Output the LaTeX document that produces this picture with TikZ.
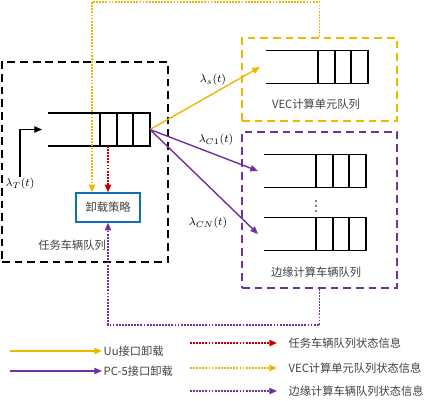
\documentclass[tikz,border=0pt]{standalone}
\usepackage{amsmath}
\usepackage{fontspec}
\newfontfamily\cjk{Noto Sans CJK SC}
\usetikzlibrary{arrows.meta}
\definecolor{gold}{RGB}{242,182,0}
\definecolor{plum}{RGB}{112,48,160}
\definecolor{darkred}{RGB}{192,0,0}
\definecolor{boxblue}{RGB}{16,110,180}

% queue: name, right end x, middle y
\newcommand{\drawqueue}[3]{%
  \draw[qline] (#2-102,#3-16.5) -- (#2,#3-16.5) -- (#2,#3+16.5) -- (#2-102,#3+16.5);
  \draw[qline] (#2-50,#3-16.5) -- (#2-50,#3+16.5);
  \draw[qline] (#2-33,#3-16.5) -- (#2-33,#3+16.5);
  \draw[qline] (#2-17,#3-16.5) -- (#2-17,#3+16.5);
  \coordinate (#1-in) at (#2-108,#3);
  \coordinate (#1-out) at (#2,#3);
}

\begin{document}
\begin{tikzpicture}[x=0.025cm, y=-0.025cm,
  >={Triangle[length=5.5pt,width=4.5pt]},
  qline/.style={line width=1.1pt, black},
  txt/.style={font=\cjk\fontsize{8}{9}\selectfont, text=black!75, inner sep=1pt},
  lab/.style={font=\fontsize{8.5}{9}\selectfont, inner sep=1pt},
  dbox/.style={draw, dash pattern=on 5.5pt off 3.5pt, line width=1.2pt},
  dots/.style={dash pattern=on 1.3pt off 0.9pt, line width=1pt},
  uu/.style={->, gold, line width=1pt},
  pc/.style={->, plum, line width=1pt},
  rinfo/.style={->, darkred, dots},
  yinfo/.style={->, gold, dots},
  pinfo/.style={->, plum, dots}]
  \useasboundingbox (0,0) rectangle (426,400);

  % boxes
  \node [dbox, black, minimum width=4.15cm, minimum height=5cm] (tv) at (85,162) {};
  \node [dbox, gold, line width=1pt, minimum width=3.875cm, minimum height=2.075cm] (vec) at (319.5,79.5) {};
  \node [dbox, plum, line width=1pt, minimum width=3.875cm, minimum height=3.9cm] (edge) at (319.5,210) {};
  \node [draw=boxblue, line width=1pt, minimum width=1.6cm, minimum height=0.725cm, txt] (strat) at (108,207.5) {卸载策略};

  % queues
  \drawqueue{tq}{150}{129.5}
  \drawqueue{vq}{368}{67}
  \drawqueue{e1}{366}{171}
  \drawqueue{e2}{366}{234}
  \foreach \y in {201,206,211}
    \fill (316,\y) circle (0.6pt);

  % texts
  \node [txt] (tvname) at (72,245) {任务车辆队列};
  \node [txt] (vecname) at (316,104) {VEC计算单元队列};
  \node [txt] (edgename) at (316,272) {边缘计算车辆队列};

  % arrival
  \node [lab] (lT) at (20,184) {$\lambda_T(t)$};
  \draw [->, line width=1pt] (lT.north) |- (tq-in);

  % offloading
  \draw [uu] (tq-out) -- (vq-in);
  \draw [pc] (tq-out) -- (e1-in);
  \draw [pc] (tq-out) -- (e2-in);
  \node [lab] (ls) at (213,80) {$\lambda_s(t)$};
  \node [lab] (lc1) at (216,140) {$\lambda_{C1}(t)$};
  \node [lab] (lcn) at (208,223) {$\lambda_{CN}(t)$};

  % state information
  \coordinate (ytop) at (92,2);
  \draw [yinfo] (vec.north) |- (ytop) -- (ytop |- strat.north);
  \coordinate (rtop) at (108,146);
  \draw [rinfo] (rtop) -- (strat.north);
  \coordinate (pbot) at (108,325);
  \draw [pinfo] (edge.south) |- (pbot) -- (strat.south);

  % legend
  \node [txt, anchor=west] (lg1) at (102,351) {Uu接口卸载};
  \coordinate (lg1s) at (10,351);
  \draw [uu] (lg1s) -- (lg1.west);
  \node [txt, anchor=west] (lg2) at (102,371) {PC-5接口卸载};
  \coordinate (lg2s) at (10,371);
  \draw [pc] (lg2s) -- (lg2.west);
  \node [txt, anchor=west] (lg3) at (287,343) {任务车辆队列状态信息};
  \coordinate (lg3s) at (190,343);
  \draw [rinfo] (lg3s) -- ++(87,0);
  \node [txt, anchor=west] (lg4) at (287,368) {VEC计算单元队列状态信息};
  \coordinate (lg4s) at (190,368);
  \draw [yinfo] (lg4s) -- ++(87,0);
  \node [txt, anchor=west] (lg5) at (287,391) {边缘计算车辆队列状态信息};
  \coordinate (lg5s) at (190,391);
  \draw [pinfo] (lg5s) -- ++(87,0);
\end{tikzpicture}
\end{document}
